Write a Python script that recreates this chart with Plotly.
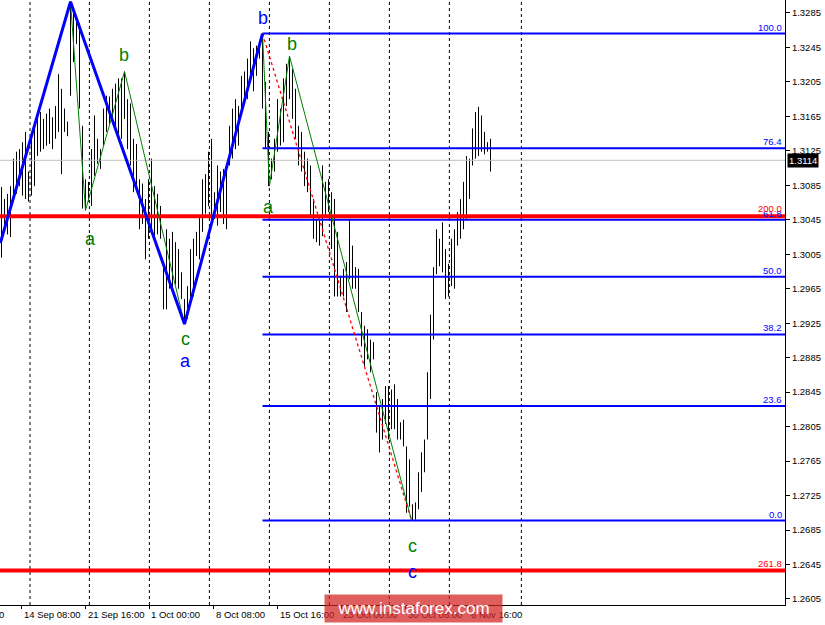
import plotly.graph_objects as go

# ---------------- data ----------------
bar_high = [
    1.3083, 1.3069, 1.3075, 1.3084, 1.3116, 1.3124, 1.3127, 1.3135, 1.3147, 1.3101,
    1.3145, 1.3154, 1.3166, 1.3170, 1.3162, 1.3168, 1.3174, 1.3164, 1.3177, 1.3214,
    1.3197, 1.3174, 1.3159, 1.3298, 1.3287, 1.3278, 1.3273, 1.3154, 1.3092, 1.3089,
    1.3127, 1.3166, 1.3139, 1.3127, 1.3174, 1.3189, 1.3188, 1.3197, 1.3203, 1.3209,
    1.3209, 1.3217, 1.3185, 1.3180, 1.3139, 1.3133, 1.3092, 1.3087, 1.3069, 1.3092,
    1.3116, 1.3084, 1.3075, 1.3061, 1.2991, 1.3034, 1.3023, 1.3031, 1.3019, 1.3011,
    1.2984, 1.2953, 1.2968, 1.3011, 1.3023, 1.3031, 1.3049, 1.3092, 1.3098, 1.3124,
    1.3139, 1.3077, 1.3108, 1.3101, 1.3104, 1.3108, 1.3154, 1.3174, 1.3185, 1.3177,
    1.3212, 1.3217, 1.3232, 1.3252, 1.3244, 1.3247, 1.3252, 1.3261, 1.3205, 1.3147,
    1.3116, 1.3139, 1.3185, 1.3174, 1.3209, 1.3226, 1.3235, 1.3220, 1.3197, 1.3154,
    1.3147, 1.3124, 1.3116, 1.3108, 1.3069, 1.3046, 1.3049, 1.3108, 1.3089, 1.3092,
    1.3077, 1.3069, 1.3031, 1.2980, 1.2988, 1.2996, 1.3046, 1.3015, 1.2990, 1.2988,
    1.2938, 1.2922, 1.2918, 1.2906, 1.2903, 1.2845, 1.2829, 1.2837, 1.2852, 1.2852,
    1.2848, 1.2854, 1.2837, 1.2810, 1.2813, 1.2782, 1.2767, 1.2715, 1.2717, 1.2752,
    1.2775, 1.2790, 1.2868, 1.2935, 1.2990, 1.3034, 1.3023, 1.3042, 1.3011, 1.2994,
    1.3023, 1.3034, 1.3054, 1.3069, 1.3089, 1.3119, 1.3116, 1.3151, 1.3170, 1.3176,
    1.3166, 1.3147, 1.3135, 1.3139,
]
bar_low = [
    1.3001, 1.3032, 1.3028, 1.3025, 1.3069, 1.3075, 1.3084, 1.3073, 1.3069, 1.3066,
    1.3073, 1.3084, 1.3119, 1.3124, 1.3127, 1.3131, 1.3133, 1.3127, 1.3139, 1.3147,
    1.3098, 1.3147, 1.3142, 1.3189, 1.3228, 1.3249, 1.3174, 1.3058, 1.3056, 1.3066,
    1.3061, 1.3096, 1.3110, 1.3104, 1.3131, 1.3147, 1.3156, 1.3162, 1.3151, 1.3145,
    1.3139, 1.3162, 1.3127, 1.3108, 1.3077, 1.3081, 1.3034, 1.3040, 1.2999, 1.3023,
    1.3031, 1.3019, 1.3028, 1.3023, 1.2941, 1.2941, 1.2965, 1.2961, 1.2970, 1.2965,
    1.2953, 1.2924, 1.2930, 1.2953, 1.2956, 1.3003, 1.2999, 1.3031, 1.3052, 1.3061,
    1.3046, 1.3046, 1.3038, 1.3054, 1.3040, 1.3034, 1.3108, 1.3116, 1.3127, 1.3131,
    1.3174, 1.3185, 1.3185, 1.3205, 1.3194, 1.3212, 1.3232, 1.3174, 1.3127, 1.3084,
    1.3092, 1.3101, 1.3124, 1.3131, 1.3135, 1.3177, 1.3185, 1.3162, 1.3139, 1.3108,
    1.3101, 1.3084, 1.3077, 1.3049, 1.3023, 1.3019, 1.3015, 1.3026, 1.3049, 1.3054,
    1.3011, 1.2956, 1.2956, 1.2956, 1.2956, 1.2938, 1.2976, 1.2965, 1.2965, 1.2938,
    1.2898, 1.2875, 1.2883, 1.2868, 1.2883, 1.2798, 1.2775, 1.2790, 1.2808, 1.2790,
    1.2802, 1.2802, 1.2790, 1.2790, 1.2782, 1.2705, 1.2712, 1.2696, 1.2697, 1.2709,
    1.2729, 1.2752, 1.2790, 1.2837, 1.2906, 1.2982, 1.2991, 1.2984, 1.2953, 1.2956,
    1.2968, 1.2965, 1.3015, 1.3023, 1.3034, 1.3046, 1.3069, 1.3108, 1.3116, 1.3119,
    1.3124, 1.3121, 1.3124, 1.3101,
]
bar_index = list(range(len(bar_high)))

# wave pivots (bar index, price)
blue_wave_x = [-0.4, 23, 61, 87]
blue_wave_y = [1.3018, 1.3298, 1.2924, 1.3261]
green_wave1_x = [23, 28, 41, 61]
green_wave1_y = [1.3298, 1.3056, 1.3217, 1.2924]
green_wave2_x = [87, 89.3, 96, 136.7]
green_wave2_y = [1.3261, 1.3084, 1.3235, 1.2696]
red_trend_x = [87, 136.7]
red_trend_y = [1.3261, 1.2696]

# fibonacci retracement (blue) and extension (red)
fib_labels = ["0.0", "23.6", "38.2", "50.0", "61.8", "76.4", "100.0"]
fib_prices = [1.2696, 1.2829, 1.2912, 1.2979, 1.3045, 1.3128, 1.3261]
fib_start = 87
ext_labels = ["200.0", "261.8"]
ext_prices = [1.3049, 1.2638]
current_price = 1.3114

y_ticks = [1.2605, 1.2645, 1.2685, 1.2725, 1.2765, 1.2805, 1.2845, 1.2885, 1.2925,
           1.2965, 1.3005, 1.3045, 1.3085, 1.3125, 1.3165, 1.3205, 1.3245, 1.3285]
date_labels = ["14 Sep 08:00", "21 Sep 16:00", "1 Oct 00:00", "8 Oct 08:00",
               "15 Oct 16:00", "23 Oct 00:00", "30 Oct 08:00", "6 Nov 16:00"]
date_pos = [6.7, 28, 49.3, 70.7, 92, 113.3, 134.7, 156]
first_cut_label = "7 Sep 00:00"
grid_pos = [9.5, 29.3, 49.3, 69.3, 89.3, 109.3, 129.3, 149.3, 173.3]

X_RANGE = [-0.5, 261.17]
Y_RANGE = [1.2598, 1.3300]

BLUE = "#0000FF"
RED = "#FF0000"
GREEN = "#008000"
FONT = "Liberation Sans, Arial, sans-serif"

fig = go.Figure()

# OHLC-style bars (high-low sticks)
bx, by = [], []
for i, h, l in zip(bar_index, bar_high, bar_low):
    bx += [i, i, None]
    by += [l, h, None]
fig.add_trace(go.Scatter(x=bx, y=by, mode="lines", line=dict(color="black", width=1),
                         hoverinfo="skip", showlegend=False))

# current price line
fig.add_trace(go.Scatter(x=X_RANGE, y=[current_price, current_price], mode="lines",
                         line=dict(color="#C0C0C0", width=1), showlegend=False, hoverinfo="skip"))

# fibonacci retracement lines
for p in fib_prices:
    fig.add_trace(go.Scatter(x=[fib_start, X_RANGE[1]], y=[p, p], mode="lines",
                             line=dict(color=BLUE, width=2), showlegend=False, hoverinfo="skip"))
# extension lines
for p in ext_prices:
    fig.add_trace(go.Scatter(x=X_RANGE, y=[p, p], mode="lines",
                             line=dict(color=RED, width=4), showlegend=False, hoverinfo="skip"))

# waves
fig.add_trace(go.Scatter(x=red_trend_x, y=red_trend_y, mode="lines",
                         line=dict(color=RED, width=1.3, dash="dot"), showlegend=False))
fig.add_trace(go.Scatter(x=green_wave1_x, y=green_wave1_y, mode="lines",
                         line=dict(color=GREEN, width=1), showlegend=False))
fig.add_trace(go.Scatter(x=green_wave2_x, y=green_wave2_y, mode="lines",
                         line=dict(color=GREEN, width=1), showlegend=False))
fig.add_trace(go.Scatter(x=blue_wave_x, y=blue_wave_y, mode="lines",
                         line=dict(color=BLUE, width=3), showlegend=False))

shapes = []
for gx in grid_pos:
    shapes.append(dict(type="line", xref="x", yref="paper", x0=gx, x1=gx, y0=0, y1=1,
                       line=dict(color="black", width=1, dash="3px,3px"), layer="below"))

ann = []
# wave labels anchored at pivots
def wave_label(text, x, y, color, dy, dx=0):
    ann.append(dict(x=x, y=y, xref="x", yref="y", text=text, showarrow=False,
                    font=dict(family=FONT, size=18, color=color),
                    xshift=dx, yshift=dy))

wave_label("a", green_wave1_x[1], green_wave1_y[1], GREEN, -29, 5)
wave_label("b", green_wave1_x[2], green_wave1_y[2], GREEN, 17, -1)
wave_label("c", green_wave1_x[3], green_wave1_y[3], GREEN, -15, 1)
wave_label("a", blue_wave_x[2], blue_wave_y[2], BLUE, -37, 1)
wave_label("b", blue_wave_x[3], blue_wave_y[3], BLUE, 16, 0)
wave_label("a", green_wave2_x[1], green_wave2_y[1], GREEN, -21, -1)
wave_label("b", green_wave2_x[2], green_wave2_y[2], GREEN, 12, 2)
wave_label("c", green_wave2_x[3], green_wave2_y[3], GREEN, -25, 1)
wave_label("c", green_wave2_x[3], green_wave2_y[3], BLUE, -51, 1)

# fib level labels
for t, p in zip(fib_labels, fib_prices):
    ann.append(dict(x=1, y=p, xref="paper", yref="y", text=t, showarrow=False,
                    xanchor="right", yanchor="bottom", xshift=-1, yshift=-1,
                    font=dict(family=FONT, size=9.5, color=BLUE)))
for t, p in zip(ext_labels, ext_prices):
    ann.append(dict(x=1, y=p, xref="paper", yref="y", text=t, showarrow=False,
                    xanchor="right", yanchor="bottom", xshift=-1, yshift=0,
                    font=dict(family=FONT, size=9.5, color=RED)))

# current price tag
ann.append(dict(x=1, y=current_price, xref="paper", yref="y", text="1.3114",
                showarrow=False, xanchor="left", yanchor="middle", xshift=2,
                bgcolor="black", borderpad=1,
                font=dict(family=FONT, size=9.5, color="white")))

# time labels
for t, p in zip(date_labels, date_pos):
    ann.append(dict(x=p, y=0, xref="x", yref="paper", text=t, showarrow=False,
                    xanchor="left", yanchor="top", yshift=-2,
                    font=dict(family=FONT, size=9.5, color="black")))
ann.append(dict(x=0, y=0, xref="paper", yref="paper", text=first_cut_label, showarrow=False,
                xanchor="right", yanchor="top", yshift=-2, xshift=6,
                font=dict(family=FONT, size=9.5, color="black")))

# watermark
ann.append(dict(x=413.5 / 785, y=0, xref="paper", yref="paper", text="www.instaforex.com",
                showarrow=False, xanchor="center", yanchor="middle", yshift=-3,
                width=171, height=21, borderpad=3,
                bgcolor="rgba(210,33,33,0.72)",
                font=dict(family=FONT, size=17, color="white")))

fig.update_layout(
    width=825, height=625,
    margin=dict(l=0, r=40, t=0, b=20),
    paper_bgcolor="white", plot_bgcolor="white",
    showlegend=False,
    shapes=shapes,
    annotations=ann,
    xaxis=dict(range=X_RANGE, showgrid=False, zeroline=False, showline=True,
               linecolor="black", linewidth=1, tickvals=date_pos, ticks="outside",
               ticklen=3, tickcolor="black", showticklabels=False),
    yaxis=dict(range=Y_RANGE, side="right", showgrid=False, zeroline=False, showline=True,
               linecolor="black", linewidth=1, tickvals=y_ticks,
               ticktext=[f"{v:.4f}" for v in y_ticks], ticks="outside", ticklen=4,
               tickcolor="black", tickfont=dict(family=FONT, size=9.5, color="black")),
)

fig.write_html("out.html", config={"displayModeBar": False},
               post_script="document.body.style.margin='0px';")
